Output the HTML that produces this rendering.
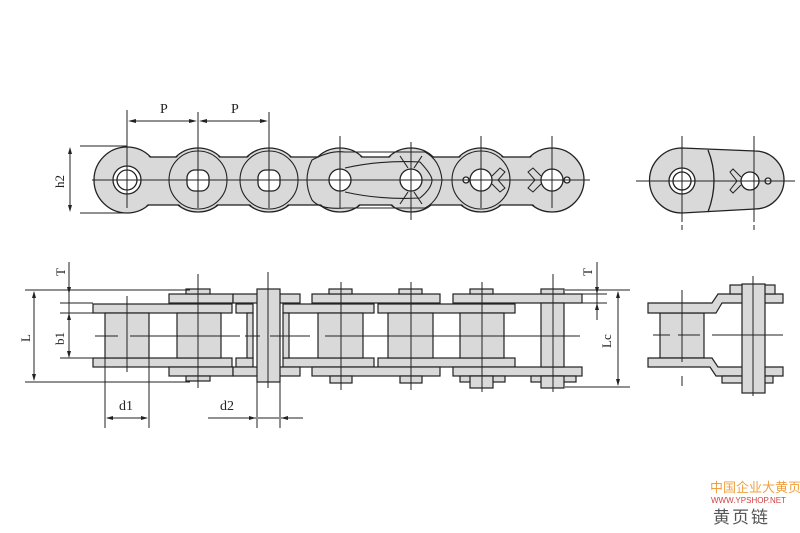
<!DOCTYPE html>
<html><head><meta charset="utf-8"><style>
html,body{margin:0;padding:0;background:#fff;width:800px;height:533px;overflow:hidden}
svg{display:block}
text{font-family:"Liberation Serif",serif;fill:#222}
</style></head><body>
<svg width="800" height="533" viewBox="0 0 800 533" xmlns="http://www.w3.org/2000/svg">
<g stroke="#222" stroke-width="1.3" fill="#d9d9d9">
<!-- TOP VIEW outline -->
<g>
<circle cx="127" cy="180" r="33"/><circle cx="198" cy="180" r="32"/><circle cx="269" cy="180" r="32"/>
<circle cx="340" cy="180" r="32"/><circle cx="411" cy="180" r="32"/><circle cx="481" cy="180" r="32"/><circle cx="552" cy="180" r="32"/>
<rect x="127" y="157" width="425" height="48"/>
</g>
<g stroke="none">
<circle cx="127" cy="180" r="32"/><circle cx="198" cy="180" r="31"/><circle cx="269" cy="180" r="31"/>
<circle cx="340" cy="180" r="31"/><circle cx="411" cy="180" r="31"/><circle cx="481" cy="180" r="31"/><circle cx="552" cy="180" r="31"/>
<rect x="127" y="158" width="425" height="46"/>
</g>
<g fill="none" stroke-width="1.1">
<circle cx="198" cy="180" r="29"/><circle cx="269" cy="180" r="29"/><circle cx="481" cy="180" r="29"/>
<path d="M312 160 Q330 150 345 152 L425 152 Q440 160 442 180 Q440 200 425 208 L345 208 Q320 210 312 200 Q302 180 312 160 Z"/>
<path d="M345 168 Q380 160 420 162 Q432 175 432 180 Q432 188 420 198 Q380 200 345 192"/>
<path d="M400 156 L408 168 M422 156 L414 168 M400 204 L408 192 M422 204 L414 192"/>
</g>
<g fill="#fff">
<circle cx="127" cy="180" r="14"/><circle cx="127" cy="180" r="10"/>
<rect x="187" y="170" width="22" height="21" rx="8"/><rect x="258" y="170" width="22" height="21" rx="8"/>
<circle cx="340" cy="180" r="11"/><circle cx="411" cy="180" r="11"/><circle cx="481" cy="180" r="11"/><circle cx="552" cy="180" r="11"/>
<circle cx="466" cy="180" r="3"/><circle cx="567" cy="180" r="3"/>
</g>
<path d="M492 176 L500 168 L505 172 L498 180 L505 188 L500 192 L492 184 M541 176 L533 168 L528 172 L535 180 L528 188 L533 192 L541 184" fill="none" stroke-width="1"/>
</g>
<!-- top view centerlines & dims -->
<g stroke="#222" stroke-width="1" fill="none">
<line x1="92" y1="180" x2="590" y2="180"/>
<line x1="127" y1="110" x2="127" y2="208"/><line x1="198" y1="112" x2="198" y2="208"/><line x1="269" y1="112" x2="269" y2="208"/>
<line x1="340" y1="136" x2="340" y2="208"/><line x1="411" y1="142" x2="411" y2="220"/><line x1="481" y1="136" x2="481" y2="208"/><line x1="552" y1="136" x2="552" y2="208"/>
<line x1="131" y1="121" x2="194" y2="121"/><line x1="202" y1="121" x2="265" y2="121"/>
<line x1="80" y1="146" x2="127" y2="146"/><line x1="80" y1="213" x2="127" y2="213"/>
<line x1="70" y1="150" x2="70" y2="210"/>
</g>
<g fill="#222">
<path d="M128 121 l8 -2 v4z M197 121 l-8 -2 v4z M199 121 l8 -2 v4z M268 121 l-8 -2 v4z"/>
<path d="M70 147 l-2 7 h4z M70 212 l-2 -7 h4z"/>
</g>
<text x="160" y="113" font-size="14">P</text><text x="231" y="113" font-size="14">P</text>
<text x="0" y="0" font-size="13" transform="translate(64,188) rotate(-90)">h2</text>

<!-- RIGHT TOP VIEW -->
<g stroke="#222" stroke-width="1.3" fill="#d9d9d9">
<path d="M682 148 L755 151 A29 29 0 0 1 755 209 L682 213 A32.5 32.5 0 0 1 682 148 Z"/>
<path d="M708 150 Q720 180 708 212" fill="none"/>
<circle cx="682" cy="181" r="13" fill="#fff"/><circle cx="682" cy="181" r="9" fill="#fff"/>
<circle cx="750" cy="181" r="9" fill="#fff"/><circle cx="768" cy="181" r="3" fill="#fff"/>
<path d="M741 177 L733 169 L730 172 L737 181 L730 190 L733 193 L741 185" fill="none" stroke-width="1"/>
</g>
<g stroke="#222" stroke-width="1">
<line x1="636" y1="181" x2="795" y2="181"/><line x1="682" y1="136" x2="682" y2="222"/><line x1="754" y1="136" x2="754" y2="222"/>
<line x1="682" y1="225" x2="682" y2="230"/><line x1="754" y1="225" x2="754" y2="230"/>
</g>

<!-- BOTTOM VIEW -->
<g stroke="#222" stroke-width="1.2" fill="#d9d9d9">
<!-- inner plates -->
<rect x="93" y="304" width="139" height="9"/><rect x="93" y="358" width="139" height="9"/>
<rect x="236" y="304" width="17" height="9"/><rect x="236" y="358" width="17" height="9"/>
<rect x="283" y="304" width="91" height="9"/><rect x="283" y="358" width="91" height="9"/>
<rect x="378" y="304" width="137" height="9"/><rect x="378" y="358" width="137" height="9"/>
<!-- outer plates -->
<rect x="169" y="294" width="64" height="9"/><rect x="169" y="367" width="64" height="9"/>
<rect x="233" y="294" width="67" height="9"/><rect x="233" y="367" width="67" height="9"/>
<rect x="312" y="294" width="128" height="9"/><rect x="312" y="367" width="128" height="9"/>
<rect x="453" y="294" width="129" height="9"/><rect x="453" y="367" width="129" height="9"/>
<!-- rollers -->
<rect x="105" y="313" width="44" height="45"/><rect x="177" y="313" width="44" height="45"/>
<rect x="318" y="313" width="45" height="45"/><rect x="388" y="313" width="45" height="45"/><rect x="460" y="313" width="44" height="45"/>
<rect x="247" y="313" width="6" height="45"/><rect x="283" y="313" width="6" height="45"/>
<!-- connecting pin -->
<rect x="257" y="289" width="23" height="93"/>
<!-- pin heads -->
<rect x="186" y="289" width="24" height="5"/><rect x="186" y="376" width="24" height="5"/>
<rect x="329" y="289" width="23" height="5"/><rect x="399" y="289" width="23" height="5"/><rect x="470" y="289" width="23" height="5"/><rect x="541" y="289" width="23" height="5"/>
<rect x="330" y="376" width="22" height="7"/><rect x="400" y="376" width="22" height="7"/>
<rect x="460" y="376" width="45" height="6"/><rect x="470" y="376" width="23" height="12"/>
<rect x="531" y="376" width="45" height="6"/><rect x="541" y="376" width="23" height="12"/>
<rect x="541" y="303" width="23" height="64"/>
</g>
<g stroke="#222" stroke-width="1" fill="none">
<line x1="25" y1="290" x2="190" y2="290"/><line x1="25" y1="382" x2="190" y2="382"/>
<line x1="60" y1="303" x2="93" y2="303"/><line x1="60" y1="313" x2="105" y2="313"/><line x1="60" y1="358" x2="93" y2="358"/>
<line x1="34" y1="292" x2="34" y2="380"/>
<line x1="69" y1="262" x2="69" y2="357"/>
<line x1="105" y1="358" x2="105" y2="428"/><line x1="149" y1="358" x2="149" y2="428"/><line x1="107" y1="418" x2="147" y2="418"/>
<line x1="257" y1="382" x2="257" y2="428"/><line x1="280" y1="382" x2="280" y2="428"/>
<line x1="208" y1="418" x2="256" y2="418"/><line x1="281" y1="418" x2="303" y2="418"/><line x1="258" y1="418" x2="279" y2="418"/>
<line x1="565" y1="290" x2="630" y2="290"/><line x1="565" y1="387" x2="630" y2="387"/>
<line x1="582" y1="294" x2="607" y2="294"/><line x1="582" y1="303" x2="607" y2="303"/>
<line x1="618" y1="292" x2="618" y2="385"/><line x1="597" y1="262" x2="597" y2="320"/>
<!-- centerlines -->
<path d="M95 336 H118 M130 336 H240 M245 336 H260 M270 336 H310 M325 336 H580" />
<line x1="127" y1="296" x2="127" y2="372"/><line x1="198" y1="274" x2="198" y2="388"/><line x1="268" y1="272" x2="268" y2="388"/>
<line x1="341" y1="282" x2="341" y2="390"/><line x1="411" y1="282" x2="411" y2="390"/><line x1="482" y1="282" x2="482" y2="392"/><line x1="553" y1="274" x2="553" y2="392"/>
</g>
<g fill="#222">
<path d="M34 291 l-2 7 h4z M34 381 l-2 -7 h4z M69 294 l-2 -7 h4z M69 313 l-2 7 h4z M69 358 l-2 -7 h4z"/>
<path d="M106 418 l7 -2 v4z M148 418 l-7 -2 v4z M256 418 l-7 -2 v4z M281 418 l7 -2 v4z"/>
<path d="M618 291 l-2 7 h4z M618 386 l-2 -7 h4z M597 294 l-2 -7 h4z M597 303 l-2 7 h4z"/>
</g>
<text font-size="13" transform="translate(65,276) rotate(-90)">T</text>
<text font-size="13" transform="translate(30,342) rotate(-90)">L</text>
<text font-size="13" transform="translate(64,345) rotate(-90)">b1</text>
<text font-size="14" x="119" y="410">d1</text>
<text font-size="14" x="220" y="410">d2</text>
<text font-size="13" transform="translate(592,276) rotate(-90)">T</text>
<text font-size="13" transform="translate(611,348) rotate(-90)">Lc</text>

<!-- RIGHT BOTTOM VIEW -->
<g stroke="#222" stroke-width="1.2" fill="#d9d9d9">
<rect x="660" y="313" width="44" height="45"/>
<path d="M648 303 H712 L718 294 H783 V303 H722 L716 313 H648 Z"/>
<path d="M648 358 H712 L718 367 H783 V376 H716 L710 367 H648 Z"/>
<rect x="730" y="285" width="45" height="9"/>
<rect x="722" y="376" width="51" height="7"/>
<rect x="742" y="284" width="23" height="109"/>
</g>
<g stroke="#222" stroke-width="1">
<path d="M653 335 H670 M678 335 H700 M712 335 H783"/>
<line x1="682" y1="290" x2="682" y2="362"/><line x1="753" y1="276" x2="753" y2="396"/>
<line x1="682" y1="376" x2="682" y2="386"/>
</g>

<!-- watermark -->
<text x="710" y="492" font-size="13" style="font-family:'Liberation Sans','Noto Sans CJK SC',sans-serif;fill:#f0a040">中国企业大黄页</text>
<text x="711" y="503" font-size="8" style="font-family:'Liberation Sans',sans-serif;fill:#d04040">WWW.YPSHOP.NET</text>
<text x="713" y="523" font-size="17" letter-spacing="2" style="font-family:'Liberation Sans','Noto Sans CJK SC',sans-serif;fill:#555">黄页链</text>
</svg>
</body></html>
